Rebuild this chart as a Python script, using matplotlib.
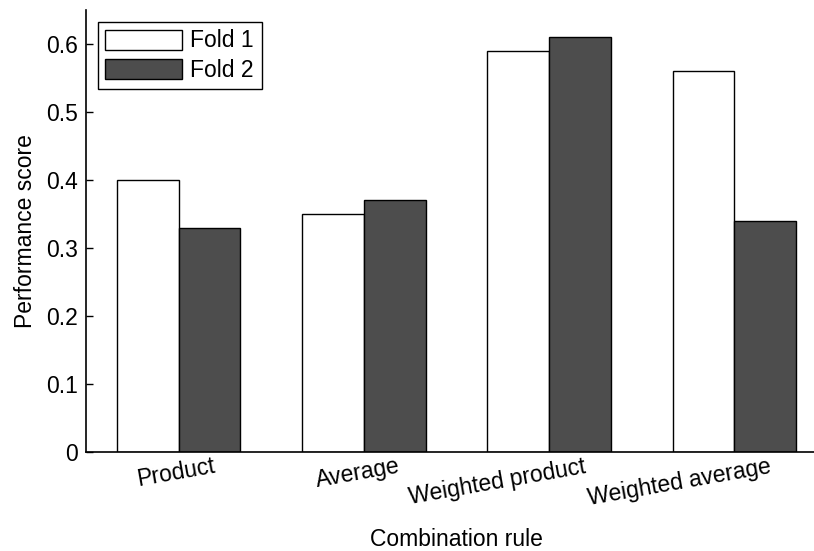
import numpy as np
import matplotlib.pyplot as plt
from matplotlib.transforms import ScaledTranslation

# values
rules = ['Product', 'Average', 'Weighted product', 'Weighted average']
fold1 = [0.40, 0.35, 0.59, 0.56]
fold2 = [0.33, 0.37, 0.61, 0.34]

plt.rcParams['font.family'] = ['Liberation Sans', 'DejaVu Sans']
plt.rcParams['font.size'] = 16.5

fig = plt.figure(figsize=(8.14, 5.51), dpi=100)
# axes run a little past the right edge, like the cropped original
ax = fig.add_axes([86 / 814, 99 / 551, 741 / 814, 442 / 551])

x = np.arange(1, len(rules) + 1)
w = 1 / 3
ax.bar(x - w / 2, fold1, w, color='white', edgecolor='black', linewidth=1, label='Fold 1')
ax.bar(x + w / 2, fold2, w, color='#4d4d4d', edgecolor='black', linewidth=1, label='Fold 2')

ax.set_xlim(0.5, 4.5)
ax.set_ylim(0, 0.65)
ax.set_yticks([0, 0.1, 0.2, 0.3, 0.4, 0.5, 0.6])
ax.set_yticklabels(['0', '0.1', '0.2', '0.3', '0.4', '0.5', '0.6'])
ax.tick_params(axis='y', direction='in', length=5, width=1, pad=6)
ax.tick_params(axis='x', length=0, pad=2)

ax.set_xticks(x)
ax.set_xticklabels(rules)
offset = ScaledTranslation(34 / 100, 0, fig.dpi_scale_trans)
for lab in ax.get_xticklabels():
    lab.set_rotation(10)
    lab.set_rotation_mode('anchor')
    lab.set_ha('right')
    lab.set_va('top')
    lab.set_transform(lab.get_transform() + offset)

ax.spines['top'].set_visible(False)
ax.spines['right'].set_visible(False)
for s in ['left', 'bottom']:
    ax.spines[s].set_linewidth(1.2)

ax.set_xlabel('Combination rule', labelpad=13)
ax.set_ylabel('Performance score', labelpad=6)

leg = ax.legend(loc='upper left', fancybox=False, framealpha=1, edgecolor='black',
                handlelength=3.36, handleheight=0.96, labelspacing=0.28,
                handletextpad=0.35, borderpad=0.33, borderaxespad=0.52)
leg.get_frame().set_linewidth(1)

fig.savefig('out.png', dpi=100)
